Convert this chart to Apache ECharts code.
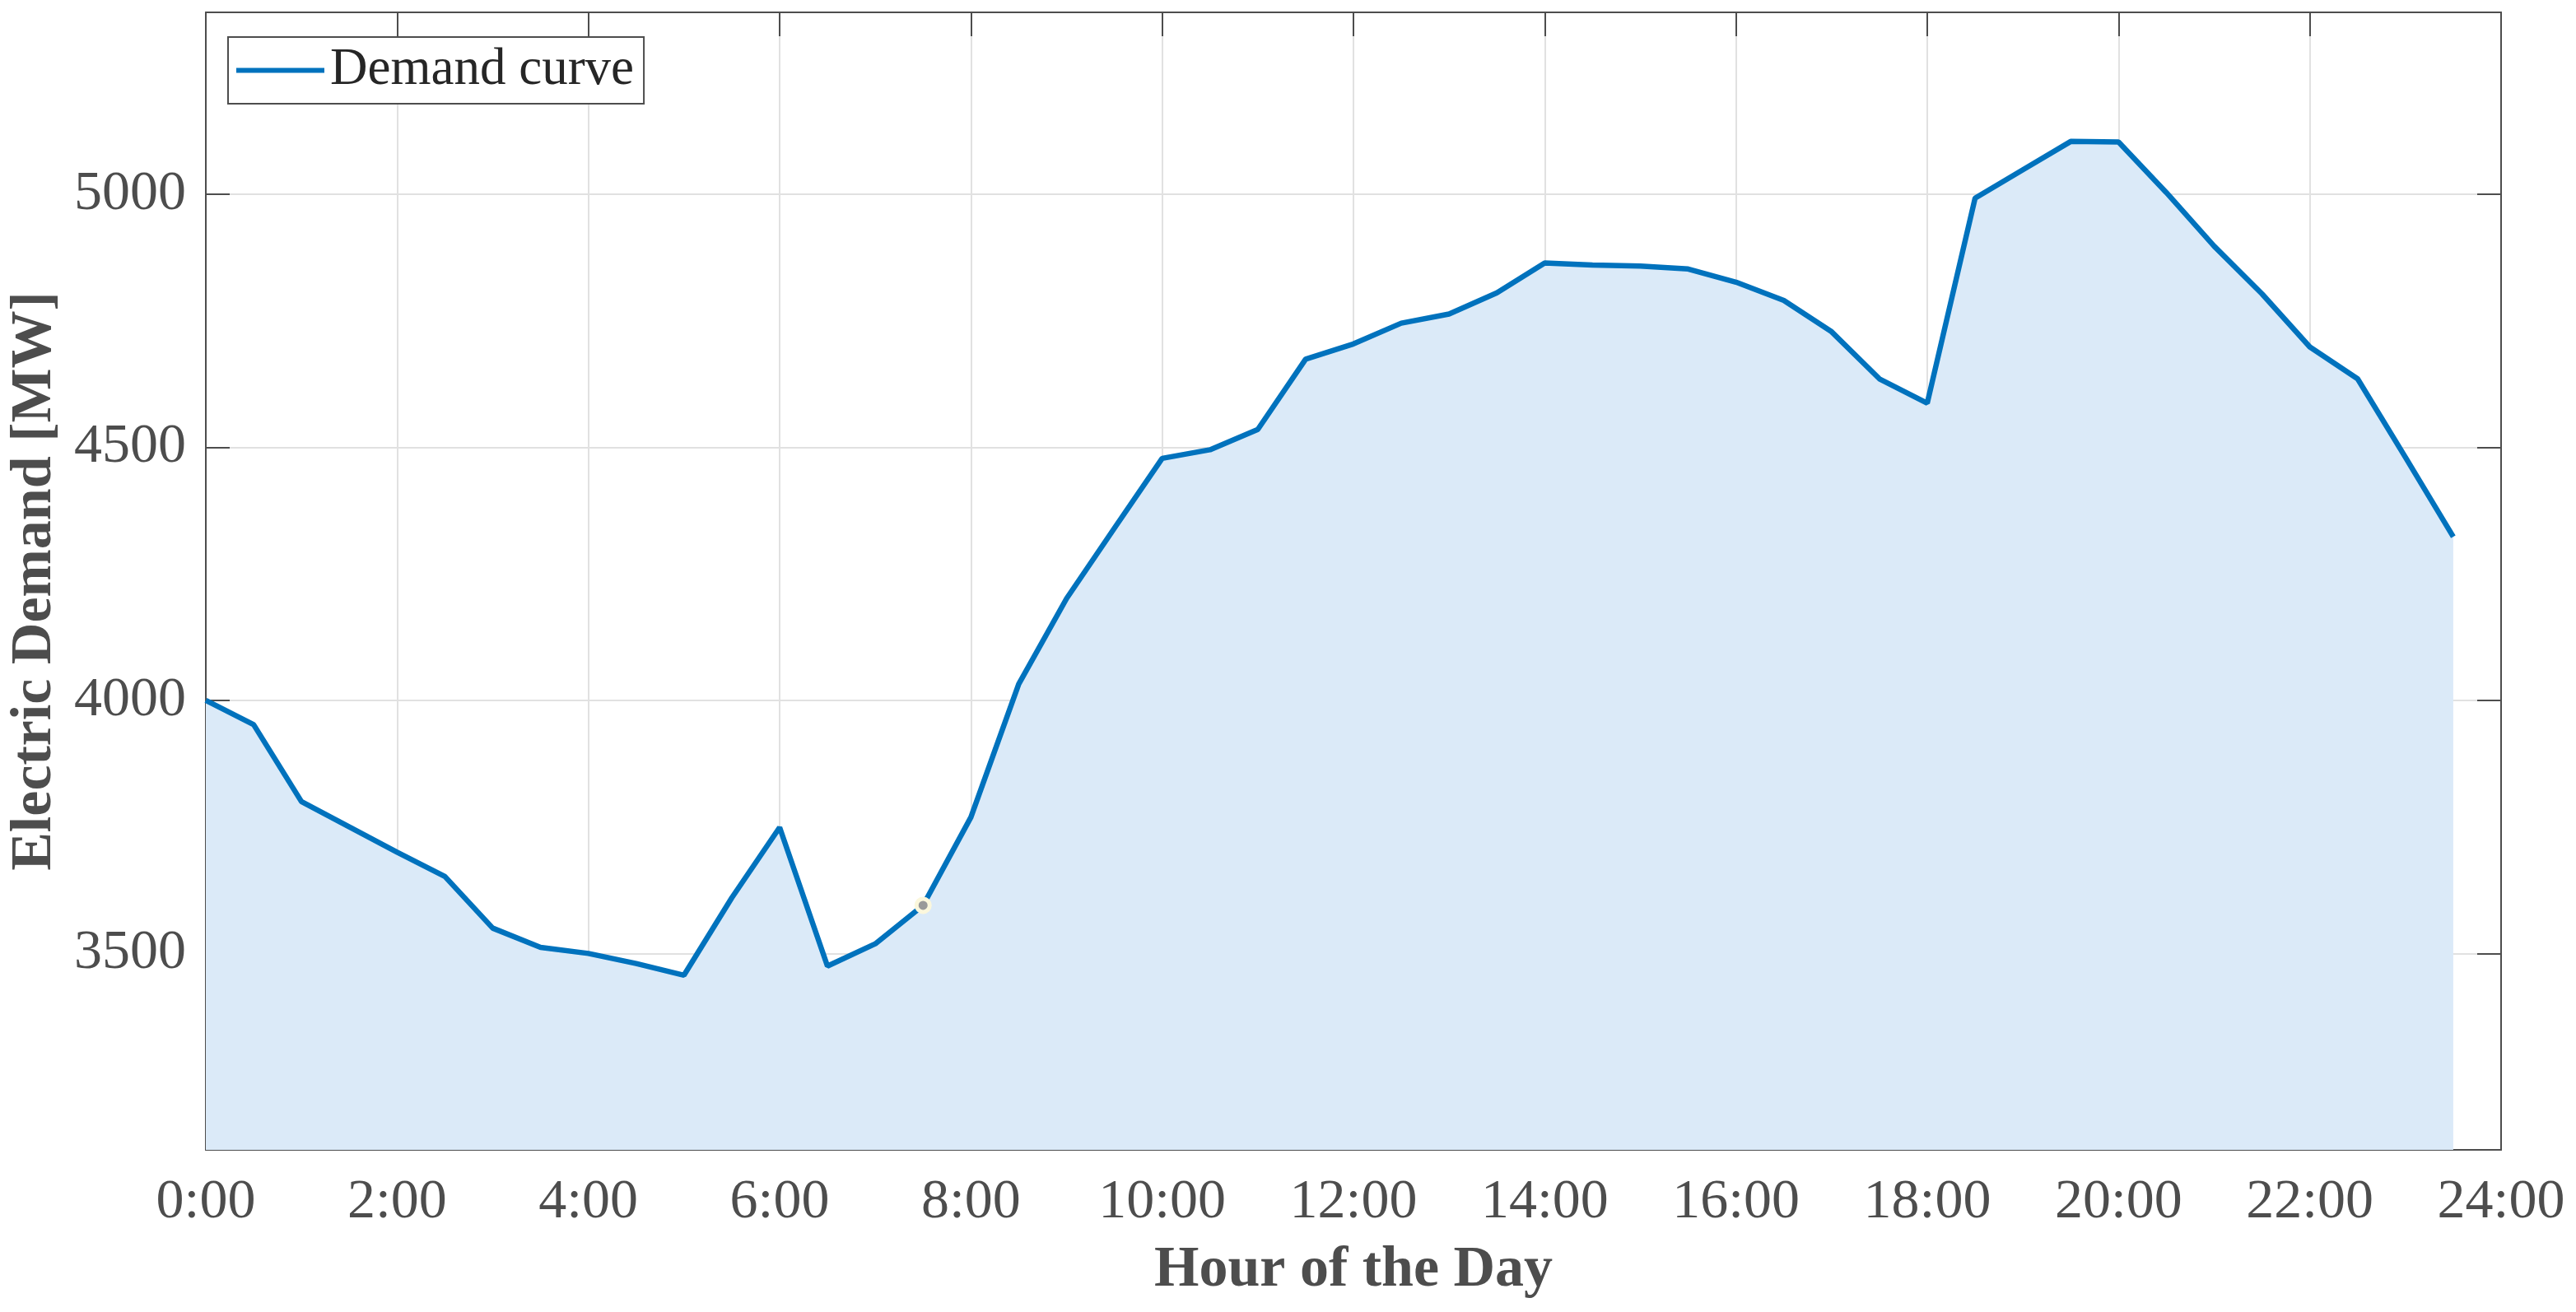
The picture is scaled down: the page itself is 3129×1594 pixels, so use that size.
<!DOCTYPE html>
<html>
<head>
<meta charset="utf-8">
<script src="https://cdn.jsdelivr.net/npm/echarts@6/dist/echarts.min.js"></script>
<style>
html,body{margin:0;padding:0;background:#fff;}
#chart{width:3129px;height:1594px;}
</style>
</head>
<body>
<div id="chart"></div>
<script>
// Hours of the day (half-hour steps)
const hours = [0,0.5,1,1.5,2,2.5,3,3.5,4,4.5,5,5.5,6,6.5,7,7.5,8,8.5,9,9.5,10,10.5,11,11.5,
               12,12.5,13,13.5,14,14.5,15,15.5,16,16.5,17,17.5,18,18.5,19,19.5,20,20.5,21,21.5,22,22.5,23,23.5];
// Electric demand [MW]
const demand = [4000,3952,3800,3750,3700,3652,3550,3512,3500,3480,3457,3610,3749,3475,3519,3595,3769,4032,4201,4340,
                4478,4495,4535,4674,4704,4745,4763,4805,4864,4860,4858,4852,4826,4790,4728,4635,4587,4992,5048,5104,
                5103,5003,4897,4803,4698,4635,4480,4323];
// Data tip index (7:30)
const tipIndex = 15;
// Axis ticks
const xTicks = [0,2,4,6,8,10,12,14,16,18,20,22,24];
const yTicks = [3500,4000,4500,5000];
const yMin = 3112, yMax = 5359;

const seriesData = hours.map((h, i) => [h, demand[i]]);
const axisColor = '#4d4d4d';
const font = 'Liberation Serif';

const chart = echarts.init(document.getElementById('chart'), null, {renderer: 'canvas'});
chart.setOption({
  animation: false,
  backgroundColor: '#ffffff',
  grid: {left: 248, right: 91, top: 15, bottom: 197, containLabel: false},
  legend: {
    data: ['Demand curve'],
    left: 277, top: 45,
    orient: 'horizontal',
    padding: [9, 12, 9, 10],
    itemGap: 0,
    itemWidth: 107, itemHeight: 6,
    icon: 'rect',
    itemStyle: {color: '#0072BD'},
    backgroundColor: '#ffffff',
    borderColor: '#4d4d4d', borderWidth: 2, borderRadius: 0,
    textStyle: {fontFamily: font, fontSize: 63, color: '#262626', padding: [0,0,0,2]}
  },
  xAxis: [{
    type: 'value', min: 0, max: 24, interval: 2,
    position: 'bottom',
    name: 'Hour of the Day', nameLocation: 'middle', nameGap: 112,
    nameTextStyle: {fontFamily: font, fontSize: 70, fontWeight: 'bold', color: axisColor},
    axisLine: {show: true, onZero: false, lineStyle: {color: axisColor, width: 2}},
    axisTick: {show: true, inside: true, length: 29, lineStyle: {color: axisColor, width: 2}},
    axisLabel: {margin: 30, fontFamily: font, fontSize: 68, color: axisColor,
      formatter: v => xTicks.includes(v) ? (v + ':00') : ''},
    splitLine: {show: true, lineStyle: {color: '#e1e1e1', width: 2}}
  }, {
    type: 'value', min: 0, max: 24, interval: 2,
    position: 'top',
    axisLine: {show: true, onZero: false, lineStyle: {color: axisColor, width: 2}},
    axisTick: {show: true, inside: true, length: 29, lineStyle: {color: axisColor, width: 2}},
    axisLabel: {show: false},
    splitLine: {show: false}
  }],
  yAxis: [{
    type: 'value', min: yMin, max: yMax,
    position: 'left',
    name: 'Electric Demand [MW]', nameLocation: 'middle', nameGap: 172, nameRotate: 90,
    nameTextStyle: {fontFamily: font, fontSize: 70, fontWeight: 'bold', color: axisColor},
    axisLine: {show: true, onZero: false, lineStyle: {color: axisColor, width: 2}},
    axisTick: {show: true, inside: true, length: 29, lineStyle: {color: axisColor, width: 2}},
    axisLabel: {margin: 24, fontFamily: font, fontSize: 68, color: axisColor,
      showMinLabel: false, showMaxLabel: false,
      formatter: v => yTicks.includes(v) ? String(v) : ''},
    splitLine: {show: true, lineStyle: {color: '#e1e1e1', width: 2}}
  }, {
    type: 'value', min: yMin, max: yMax,
    position: 'right',
    axisLine: {show: true, onZero: false, lineStyle: {color: axisColor, width: 2}},
    axisTick: {show: true, inside: true, length: 29, lineStyle: {color: axisColor, width: 2}},
    axisLabel: {show: false},
    splitLine: {show: false}
  }],
  series: [{
    name: 'Demand curve',
    type: 'line',
    xAxisIndex: 0, yAxisIndex: 0,
    data: seriesData,
    showSymbol: false,
    symbol: 'none',
    lineStyle: {color: '#0072BD', width: 6.5},
    itemStyle: {color: '#0072BD'},
    areaStyle: {color: '#dbeaf8', opacity: 1, origin: 'start'},
    z: 2
  }, {
    name: 'tip',
    type: 'scatter',
    xAxisIndex: 0, yAxisIndex: 0,
    data: [[hours[tipIndex], demand[tipIndex]]],
    symbol: 'circle',
    symbolSize: 16,
    itemStyle: {color: '#9a9a9a', borderColor: '#fbf7dc', borderWidth: 5, opacity: 1},
    z: 5
  }]
});
</script>
</body>
</html>
